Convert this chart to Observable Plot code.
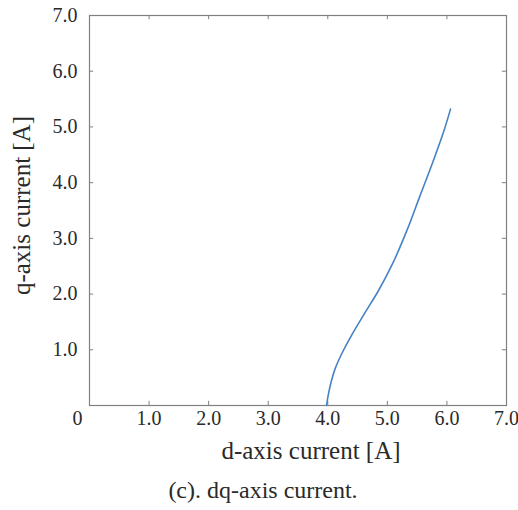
<!DOCTYPE html>
<html>
<head>
<meta charset="utf-8">
<script src="https://cdn.jsdelivr.net/npm/d3@7"></script>
<script src="https://cdn.jsdelivr.net/npm/@observablehq/plot@0.6"></script>
<style>
  html, body { margin: 0; padding: 0; background: #fff; }
  #chart svg { display: block; }
  #caption {
    font-family: "Liberation Serif", "Times New Roman", serif;
    font-size: 24px; line-height: 30px; color: #2a2a2a;
    width: 518px; text-align: center; padding-left: 8px; box-sizing: border-box;
    margin-top: 5px;
  }
</style>
</head>
<body>
<div id="chart"></div>
<div id="caption">(c). dq-axis current.</div>
<script>
// d-axis current [A] and q-axis current [A] along the trajectory
const dCurrent = [3.98, 3.99, 4.01, 4.06, 4.13, 4.23, 4.42, 4.61, 4.85, 5.09, 5.32, 5.54, 5.77, 5.95, 6.06];
const qCurrent = [0.00, 0.08, 0.20, 0.44, 0.68, 0.92, 1.30, 1.64, 2.06, 2.55, 3.12, 3.74, 4.39, 4.93, 5.32];

const xTicks = [1, 2, 3, 4, 5, 6, 7];
const xTickLabels = ["1.0", "2.0", "3.0", "4.0", "5.0", "6.0", "7.0"];
const yTicks = [1, 2, 3, 4, 5, 6, 7];
const yTickLabels = ["1.0", "2.0", "3.0", "4.0", "5.0", "6.0", "7.0"];
const innerTicks = [1, 2, 3, 4, 5, 6];
const originLabel = "0";
const xLabel = "d-axis current [A]";
const yLabel = "q-axis current [A]";

const curve = dCurrent.map((d, i) => ({d, q: qCurrent[i]}));
const xT = xTicks.map((v, i) => ({v, label: xTickLabels[i]}));
const yT = yTicks.map((v, i) => ({v, label: yTickLabels[i]}));

const font = "'Liberation Serif', 'Times New Roman', serif";
const ink = "#2a2a2a";
const frameColor = "#808080";
const t = {fontFamily: font, fill: ink};

const chart = Plot.plot({
  width: 518,
  height: 470,
  marginLeft: 89,
  marginRight: 12,
  marginTop: 15,
  marginBottom: 65,
  style: "font-family: 'Liberation Serif', 'Times New Roman', serif; background: #fff;",
  x: {domain: [0, 7], axis: null},
  y: {domain: [0, 7], axis: null},
  marks: [
    // inward ticks on all four sides
    Plot.ruleX(innerTicks, {x: d => d, y1: 0, y2: 0.075, stroke: frameColor}),
    Plot.ruleX(innerTicks, {x: d => d, y1: 7, y2: 6.925, stroke: frameColor}),
    Plot.ruleY(innerTicks, {y: d => d, x1: 0, x2: 0.07, stroke: frameColor}),
    Plot.ruleY(innerTicks, {y: d => d, x1: 7, x2: 6.93, stroke: frameColor}),
    Plot.frame({stroke: frameColor, strokeWidth: 1.2}),
    Plot.line(curve, {x: "d", y: "q", stroke: "#4683c4", strokeWidth: 1.6, curve: "monotone-y"}),
    // tick labels
    Plot.text(xT, {x: "v", text: "label", frameAnchor: "bottom", lineAnchor: "bottom", dy: 19, fontSize: 20, ...t}),
    Plot.text([originLabel], {x: () => 0, text: d => d, frameAnchor: "bottom", lineAnchor: "bottom", dy: 19, dx: -12, fontSize: 20, ...t}),
    Plot.text(yT, {y: "v", text: "label", frameAnchor: "left", textAnchor: "end", dx: -12, fontSize: 20, ...t}),
    // axis labels
    Plot.text([xLabel], {text: d => d, frameAnchor: "bottom", lineAnchor: "bottom", textAnchor: "middle", dy: 53, dx: 13, fontSize: 25, ...t}),
    Plot.text([yLabel], {text: d => d, frameAnchor: "left", rotate: -90, lineAnchor: "bottom", textAnchor: "middle", dx: -60, dy: -5, fontSize: 25, ...t})
  ]
});
document.getElementById("chart").appendChild(chart);
</script>
</body>
</html>
